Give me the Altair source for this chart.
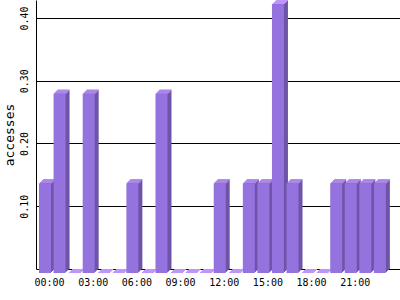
import altair as alt
import pandas as pd

# ---- data ----
hours = list(range(24))
accesses = [0.1429, 0.2857, 0.0, 0.2857, 0.0, 0.0, 0.1429, 0.0,
            0.2857, 0.0, 0.0, 0.0, 0.1429, 0.0, 0.1429, 0.1429,
            0.4286, 0.1429, 0.0, 0.0, 0.1429, 0.1429, 0.1429, 0.1429]
x_tick_hours = [0, 3, 6, 9, 12, 15, 18, 21]
y_tick_values = [0.1, 0.2, 0.3, 0.4]

df = pd.DataFrame({"hour": hours, "accesses": accesses})

# ---- styling ----
FRONT = "#9473DE"
SIDE = "#6E55A8"
TOP = "#BF95FC"
FONT = "DejaVu Sans Mono"
DEPTH = 4          # pixel depth of the 3D effect
HALF = 0.412       # half bar width, in hour units

xscale = alt.Scale(domain=[-0.893, 24.107], nice=False, zero=False)
yscale = alt.Scale(domain=[0, 0.4286], nice=False, zero=False)

x_axis = alt.Axis(
    values=x_tick_hours,
    labelExpr="(datum.value < 10 ? '0' : '') + datum.value + ':00'",
    title=None, grid=False, ticks=False, tickSize=0,
    domain=True, domainColor="black", domainWidth=1,
    labelFont=FONT, labelFontSize=10, labelColor="black",
    labelAlign="center", labelBaseline="alphabetic", labelPadding=16,
    labelFlush=False, zindex=0,
)
y_axis = alt.Axis(
    values=y_tick_values, format=".2f",
    title="accesses", titleFont=FONT, titleFontSize=13,
    titleFontWeight="normal", titleColor="black",
    titleAngle=270, titleAlign="center", titleBaseline="alphabetic",
    titleX=-22.7, titleY=134.5,
    grid=True, gridColor="black", gridOpacity=1, gridWidth=1,
    ticks=False, tickSize=0,
    domain=True, domainColor="black", domainWidth=1,
    labelFont=FONT, labelFontSize=10, labelColor="black",
    labelAngle=270, labelAlign="center", labelBaseline="alphabetic",
    labelPadding=9, zindex=0,
)

base = alt.Chart(df).transform_calculate(
    xl=f"datum.hour - {HALF}", xr=f"datum.hour + {HALF}"
)

def xy():
    return dict(
        x=alt.X("xl:Q", scale=xscale, axis=x_axis),
        x2="xr:Q",
        y=alt.Y("accesses:Q", scale=yscale, axis=y_axis),
    )

layers = []
# side faces (staircase of shifted rectangles)
for t in range(DEPTH, 0, -1):
    dx = -DEPTH + t
    dy = DEPTH - t
    layers.append(
        base.mark_rect(color=SIDE, strokeWidth=0,
                       xOffset=dx, x2Offset=dx, yOffset=dy, y2Offset=dy)
        .encode(**xy(), y2=alt.datum(0))
    )
# top faces (1px strips)
for t in range(DEPTH, 0, -1):
    dx = -DEPTH + t
    dy = DEPTH - t
    layers.append(
        base.mark_rect(color=TOP, strokeWidth=0,
                       xOffset=dx, x2Offset=dx, yOffset=dy, y2Offset=dy + 1)
        .encode(**xy(), y2="accesses:Q")
    )
# front faces
layers.append(
    base.mark_rect(color=FRONT, strokeWidth=0,
                   xOffset=-DEPTH, x2Offset=-DEPTH, yOffset=DEPTH, y2Offset=DEPTH)
    .encode(**xy(), y2=alt.datum(0))
)

chart = alt.layer(*layers).properties(
    width=364, height=269,
    autosize="none",
    padding={"left": 36, "top": 0, "right": 0, "bottom": 31},
    background="white",
).configure_view(stroke=None)

chart.save("out.html", embed_options={"renderer": "svg", "actions": False})
